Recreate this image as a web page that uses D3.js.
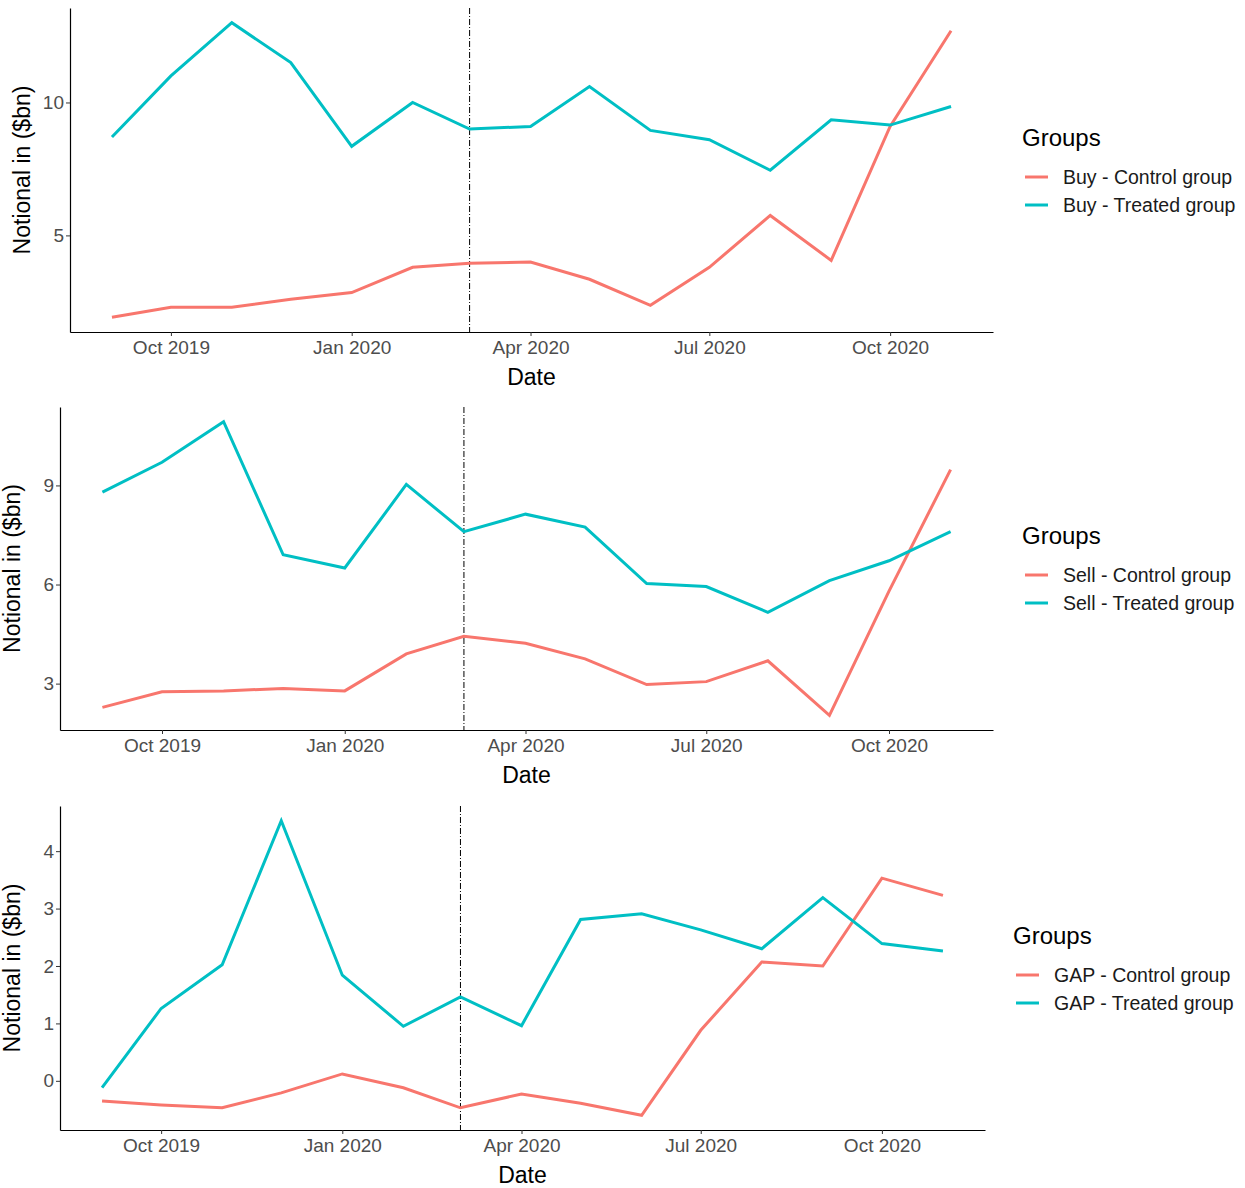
<!DOCTYPE html>
<html><head><meta charset="utf-8">
<script src="https://cdn.jsdelivr.net/npm/d3@7"></script>
<style>body{margin:0;background:#fff;font-family:"Liberation Sans",Arial,sans-serif;}</style>
</head><body><svg id="chart" width="1245" height="1188"></svg>
<script>
const months = ["2019-09","2019-10","2019-11","2019-12","2020-01","2020-02","2020-03","2020-04","2020-05","2020-06","2020-07","2020-08","2020-09","2020-10","2020-11"];
const buyControl = [1.92,2.3,2.3,2.6,2.85,3.8,3.95,4.0,3.35,2.37,3.8,5.75,4.06,9.1,12.7];
const buyTreated = [8.7,11.0,13.0,11.5,8.35,10.0,9.0,9.1,10.6,8.95,8.6,7.45,9.35,9.15,9.85];
const sellControl = [2.28,2.75,2.78,2.85,2.78,3.9,4.43,4.22,3.75,2.97,3.06,3.69,2.04,5.8,9.48];
const sellTreated = [8.8,9.7,10.93,6.9,6.5,9.03,7.6,8.13,7.74,6.03,5.94,5.16,6.12,6.72,7.6];
const gapControl = [-0.35,-0.42,-0.47,-0.21,0.12,-0.12,-0.47,-0.23,-0.39,-0.6,0.88,2.07,2.0,3.53,3.23];
const gapTreated = [-0.12,1.26,2.02,4.53,1.84,0.95,1.46,0.96,2.81,2.91,2.63,2.3,3.19,2.39,2.26];
const xTicks = ["2019-10","2020-01","2020-04","2020-07","2020-10"];
const eventDate = "2020-03";
const colors = ["#F8766D","#00BFC4"];

const parse = d3.timeParse("%Y-%m");
const dates = months.map(parse);
const svg = d3.select("#chart");

const panels = [
  {prefix:"Buy", series:[buyControl,buyTreated], yTicks:[5,10], box:{l:70,r:993,t:8,b:332}, legX:1022, legY:138},
  {prefix:"Sell", series:[sellControl,sellTreated], yTicks:[3,6,9], box:{l:60,r:993,t:407,b:730}, legX:1022, legY:536},
  {prefix:"GAP", series:[gapControl,gapTreated], yTicks:[0,1,2,3,4], box:{l:60,r:985,t:806,b:1130}, legX:1013, legY:936}
];

panels.forEach(p => {
  const b = p.box;
  const t0 = +dates[0], t1 = +dates[dates.length-1], dt = (t1-t0)*0.05;
  const x = d3.scaleTime().domain([new Date(t0-dt), new Date(t1+dt)]).range([b.l,b.r]);
  const all = p.series.flat();
  const mn = d3.min(all), mx = d3.max(all), dy = (mx-mn)*0.05;
  const y = d3.scaleLinear().domain([mn-dy, mx+dy]).range([b.b,b.t]);
  const g = svg.append("g");

  const xa = g.append("g").attr("transform",`translate(0,${b.b})`)
    .call(d3.axisBottom(x).tickValues(xTicks.map(parse)).tickFormat(d3.timeFormat("%b %Y")).tickSize(4).tickSizeOuter(0));
  const ya = g.append("g").attr("transform",`translate(${b.l},0)`)
    .call(d3.axisLeft(y).tickValues(p.yTicks).tickFormat(d3.format("d")).tickSize(4).tickSizeOuter(0));
  [xa,ya].forEach(a => {
    a.select(".domain").attr("stroke","#000").attr("stroke-width",1.2);
    a.selectAll(".tick line").attr("stroke","#333");
    a.selectAll(".tick text").attr("fill","#4d4d4d").style("font-size","19px").style("font-family","Liberation Sans, Arial");
  });
  ya.selectAll(".tick text").attr("x",-6);
  xa.selectAll(".tick text").attr("y",9);

  g.append("text").attr("x",(b.l+b.r)/2).attr("y",b.b+53).attr("text-anchor","middle")
    .style("font-size","23px").text("Date");
  g.append("text").attr("transform",`translate(${b.l-40},${(b.t+b.b)/2}) rotate(-90)`).attr("text-anchor","middle")
    .style("font-size","23px").text("Notional in ($bn)");

  g.append("line").attr("x1",x(parse(eventDate))).attr("x2",x(parse(eventDate)))
    .attr("y1",b.t).attr("y2",b.b).attr("stroke","#000").attr("stroke-width",1).attr("stroke-dasharray","6,2,1,2");

  const line = d3.line().x((d,i)=>x(dates[i])).y(d=>y(d));
  p.series.forEach((s,k) => {
    g.append("path").datum(s).attr("d",line).attr("fill","none").attr("stroke",colors[k]).attr("stroke-width",3);
  });

  const lg = g.append("g").attr("transform",`translate(${p.legX},${p.legY})`);
  lg.append("text").attr("x",0).attr("y",8).style("font-size","24px").text("Groups");
  ["Control group","Treated group"].forEach((n,k) => {
    const yy = 39 + k*28;
    lg.append("line").attr("x1",3).attr("x2",26).attr("y1",yy).attr("y2",yy).attr("stroke",colors[k]).attr("stroke-width",3);
    lg.append("text").attr("x",41).attr("y",yy+7).style("font-size","19.5px").attr("fill","#1a1a1a").text(`${p.prefix} - ${n}`);
  });
});
</script></body></html>
